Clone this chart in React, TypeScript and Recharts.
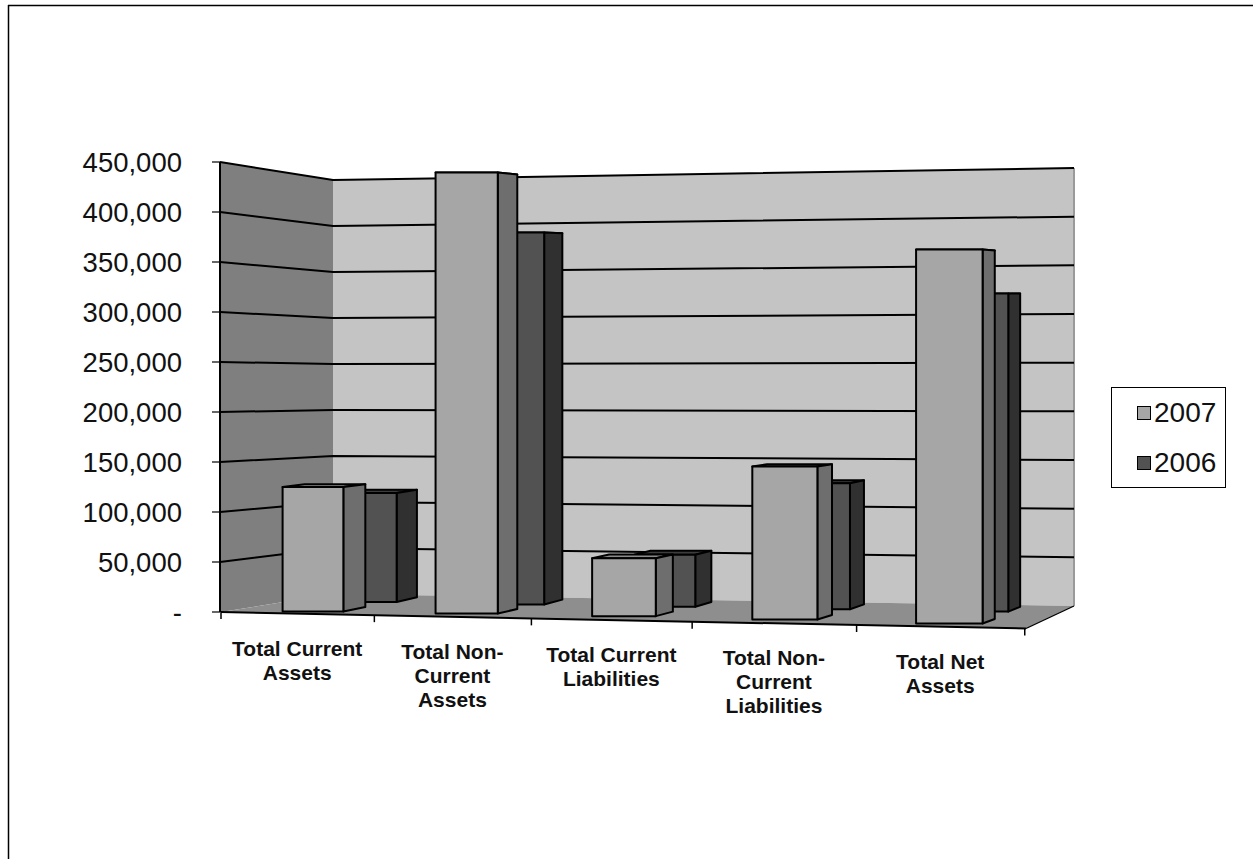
import {Bar, BarChart, CartesianGrid, Legend, XAxis, YAxis} from 'recharts';

const categories = [
    'Total Current\nAssets',
    'Total Non-\nCurrent\nAssets',
    'Total Current\nLiabilities',
    'Total Non-\nCurrent\nLiabilities',
    'Total Net\nAssets',
];
const values2007 = [124500, 441000, 58000, 153000, 374000];
const values2006 = [109000, 372000, 52000, 126000, 318000];
const yTicks = [0, 50000, 100000, 150000, 200000, 250000, 300000, 350000, 400000, 450000];

const data = categories.map((name, i) => ({name, y2007: values2007[i], y2006: values2006[i]}));

const WIDTH = 1253;
const HEIGHT = 859;
const PLOT_LEFT = 220;
const PLOT_TOP = 162;
const PLOT_RIGHT = 1027;
const PLOT_BOTTOM = 612;
const BAND = (PLOT_RIGHT - PLOT_LEFT) / categories.length;
const BAR_SIZE = BAND * 0.4;
const FONT = '"Liberation Sans", Arial, sans-serif';

// the chart is a tilted 3D one, so flat library positions get bent onto the floor
const frontX = (u: number) => 221 + 151.5 * u + 1.85 * u * u;
const frontY = (x: number) => 612 + (x - 221) * 16.5 / 805;
const toBand = (x: number) => (x - PLOT_LEFT) / BAND;

const look2007 = {
    x: [237.8, 150.1, 1.8], base: [611.03, 1.47, 0.33], depth: [22.7, -2.45], rise: 4.5,
    front: '#a6a6a6', side: '#6e6e6e', top: '#8c8c8c',
};
const look2006 = {
    x: [295.9, 143.2, 1.8], base: [601.3, 2.4, 0], depth: [20.9, -2.1], rise: 4.8,
    front: '#525252', side: '#303030', top: '#3c3c3c',
};

const quad = (c: number[], u: number) => c[0] + c[1] * u + c[2] * u * u;

function Bar3D(props: any, look: typeof look2007) {
    const {x, width, height} = props;
    const u = toBand(x);
    const left = quad(look.x, u);
    const right = quad(look.x, toBand(x + width));
    const base = quad(look.base, u);
    const top = base - height;
    const dx = look.depth[0] + look.depth[1] * u;
    const backBase = base - look.rise;
    const backTop = backBase - height * 0.985;
    const line = {stroke: '#000', strokeWidth: 2, strokeLinejoin: 'round' as const};
    return (
        <g>
            <polygon points={`${left},${top} ${left + dx},${backTop} ${right + dx},${backTop} ${right},${top}`}
                     fill={look.top} {...line}/>
            <polygon points={`${right},${top} ${right + dx},${backTop} ${right + dx},${backBase} ${right},${base}`}
                     fill={look.side} {...line}/>
            <rect x={left} y={top} width={right - left} height={base - top} fill={look.front} {...line}/>
        </g>
    );
}

// wall line follows the value through the left wall corner and on to the right edge
function WallLine(props: any) {
    const t = (PLOT_BOTTOM - props.y1) / (PLOT_BOTTOM - PLOT_TOP);
    if (t < 0.01) return <g key={props.key}/>;
    const points = `${PLOT_LEFT},${PLOT_BOTTOM - 450 * t} 333,${594 - 414 * t} 1074,${606 - 438 * t}`;
    return <polyline key={props.key} points={points} fill="none" stroke="#000" strokeWidth={2}/>;
}

function CategoryTick(props: any) {
    const {x, payload, index} = props;
    const u = toBand(x);
    const lines = String(payload.value).split('\n');
    const cx = frontX(u);
    const firstY = frontY(cx) + 35;
    const marks = index === categories.length - 1 ? [u - 0.5, u + 0.5] : [u - 0.5];
    return (
        <g>
            {marks.map((m) => {
                const mx = frontX(m);
                return <line key={m} x1={mx} x2={mx} y1={frontY(mx)} y2={frontY(mx) + 7} stroke="#000" strokeWidth={1.5}/>;
            })}
            {lines.map((l, i) => (
                <text key={l} x={cx} y={firstY + i * 24 + 7} textAnchor="middle" fontFamily={FONT}
                      fontWeight="bold" fontSize={21} fill="#111">{l}</text>
            ))}
        </g>
    );
}

function LegendBox({payload}: any) {
    const items = [...(payload ?? [])].sort((a, b) => String(b.value).localeCompare(String(a.value)));
    return (
        <div style={{width: 115, height: 101, boxSizing: 'border-box', border: '1px solid #000', background: '#fff',
            display: 'flex', flexDirection: 'column', justifyContent: 'center', gap: 21, paddingLeft: 25}}>
            {items.map((it) => (
                <div key={it.value} style={{display: 'flex', alignItems: 'center', height: 29}}>
                    <span style={{width: 12, height: 12, border: '1.5px solid #000', background: it.color, marginRight: 3}}/>
                    <span style={{fontFamily: FONT, fontSize: 28, color: '#111', lineHeight: '29px'}}>{it.value}</span>
                </div>
            ))}
        </div>
    );
}

function Walls() {
    return (
        <svg width={WIDTH} height={HEIGHT} style={{position: 'absolute', left: 0, top: 0}}>
            <line x1={8.5} y1={5} x2={8.5} y2={HEIGHT} stroke="#000" strokeWidth={1.5}/>
            <line x1={8} y1={5.5} x2={WIDTH} y2={5.5} stroke="#000" strokeWidth={1.5}/>
            <polygon points="220,162 333,180 333,594 221,612" fill="#7f7f7f"/>
            <polygon points="333,180 1074,168 1074,606 333,594" fill="#c4c4c4"/>
            <polygon points="221,612 333,594 1074,606 1026,628.5" fill="#8e8e8e"/>
            <line x1={1074} y1={168} x2={1074} y2={606} stroke="#9a9a9a" strokeWidth={2}/>
            <line x1={221} y1={612} x2={1026} y2={628.5} stroke="#000" strokeWidth={2}/>
            <line x1={1026} y1={628.5} x2={1074} y2={606} stroke="#000" strokeWidth={1.3}/>
        </svg>
    );
}

export default function App() {
    return (
        <div style={{position: 'absolute', left: 0, top: 0, width: WIDTH, height: HEIGHT, background: '#fff', overflow: 'hidden'}}>
            <Walls/>
            <div style={{position: 'absolute', left: 0, top: 0}}>
                <BarChart width={WIDTH} height={HEIGHT} data={data} barSize={BAR_SIZE} barGap={-BAR_SIZE}
                          margin={{top: PLOT_TOP, right: WIDTH - PLOT_RIGHT, left: 0, bottom: 0}}>
                    <CartesianGrid vertical={false} horizontal={WallLine} stroke="#000"/>
                    <XAxis dataKey="name" interval={0} height={HEIGHT - PLOT_BOTTOM} axisLine={false} tickLine={false}
                           tick={CategoryTick}/>
                    <YAxis width={PLOT_LEFT} domain={[0, 450000]} ticks={yTicks} interval={0} tickSize={8} tickMargin={30}
                           axisLine={{stroke: '#000', strokeWidth: 2}} tickLine={{stroke: '#000', strokeWidth: 1.2}}
                           tick={{fontSize: 27.5, fontFamily: FONT, fill: '#111'}}
                           tickFormatter={(v: number) => (v === 0 ? '-' : v.toLocaleString('en-US'))}/>
                    <Legend layout="horizontal" verticalAlign="middle" align="center" content={LegendBox}
                            wrapperStyle={{position: 'absolute', left: 1111, top: 387, width: 115, height: 101}}/>
                    <Bar dataKey="y2006" name="2006" fill={look2006.front} isAnimationActive={false}
                         shape={(p: any) => Bar3D(p, look2006)}/>
                    <Bar dataKey="y2007" name="2007" fill={look2007.front} isAnimationActive={false}
                         shape={(p: any) => Bar3D(p, look2007)}/>
                </BarChart>
            </div>
        </div>
    );
}
